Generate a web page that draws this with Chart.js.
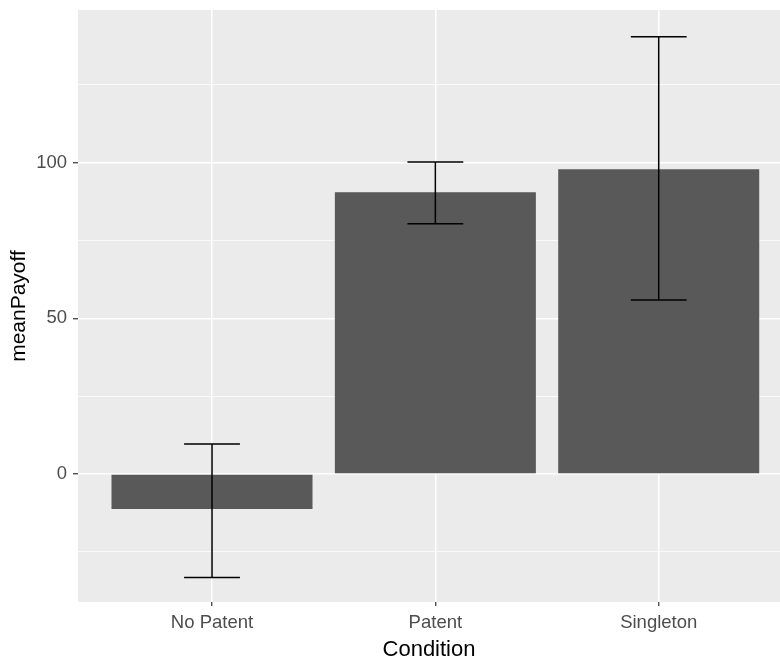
<!DOCTYPE html>
<html>
<head>
<meta charset="utf-8">
<script src="https://cdn.jsdelivr.net/npm/chart.js@4"></script>
<style>
  html, body { margin: 0; padding: 0; background: #ffffff; overflow: hidden; }
  #wrap { width: 780px; height: 663px; }
</style>
</head>
<body>
<div id="wrap"><canvas id="payoffChart" width="780" height="663"></canvas></div>
<script>
// --- Data ---
const conditions = ['No Patent', 'Patent', 'Singleton'];
const meanPayoff = [-11.2, 90.5, 97.9];
const errLower = [-33.2, 80.4, 55.9];
const errUpper = [9.6, 100.2, 140.4];
const yMajorTicks = [0, 50, 100];
const yMinorTicks = [-25, 25, 75, 125];

// Panel background + error bars (ggplot style)
const panelBg = {
    id: 'panelBg',
    beforeDraw(chart) {
        const { ctx, chartArea } = chart;
        ctx.save();
        ctx.fillStyle = '#EBEBEB';
        ctx.fillRect(chartArea.left, chartArea.top, chartArea.right - chartArea.left, chartArea.bottom - chartArea.top);
        ctx.restore();
    }
};

const errorBars = {
    id: 'errorBars',
    afterDatasetsDraw(chart) {
        const { ctx, scales } = chart;
        const x = scales.x, y = scales.y;
        ctx.save();
        ctx.strokeStyle = '#000000';
        ctx.lineWidth = 1.5;
        conditions.forEach((c, i) => {
            const cx = x.getPixelForValue(i + 1);
            const half = x.getPixelForValue(i + 1 + 0.125) - cx;
            const yt = y.getPixelForValue(errUpper[i]);
            const yb = y.getPixelForValue(errLower[i]);
            ctx.beginPath();
            ctx.moveTo(cx - half, yt); ctx.lineTo(cx + half, yt);
            ctx.moveTo(cx, yt); ctx.lineTo(cx, yb);
            ctx.moveTo(cx - half, yb); ctx.lineTo(cx + half, yb);
            ctx.stroke();
        });
        ctx.restore();
    }
};

const ctx = document.getElementById('payoffChart').getContext('2d');
new Chart(ctx, {
    type: 'bar',
    data: {
        datasets: [{
            data: conditions.map((c, i) => ({ x: i + 1, y: meanPayoff[i] })),
            backgroundColor: '#595959',
            borderWidth: 0,
            barPercentage: 0.9,
            categoryPercentage: 1.0
        }]
    },
    options: {
        responsive: false,
        animation: false,
        devicePixelRatio: 1,
        layout: { padding: { top: 10, right: 0, left: 0, bottom: 0 } },
        plugins: {
            legend: { display: false },
            tooltip: { enabled: false }
        },
        scales: {
            x: {
                type: 'linear',
                offset: false,
                min: 0.4,
                max: 3.543,
                afterBuildTicks: (axis) => {
                    axis.ticks = conditions.map((c, i) => ({ value: i + 1 }));
                },
                afterFit: (axis) => { axis.height = 61; axis.paddingLeft = 0; axis.paddingRight = 0; },
                ticks: {
                    callback: (v) => conditions[v - 1],
                    color: '#4D4D4D',
                    font: { family: 'Liberation Sans, Arial, sans-serif', size: 18.5 },
                    padding: 6,
                    maxRotation: 0,
                    autoSkip: false
                },
                grid: {
                    offset: false,
                    color: '#ffffff',
                    lineWidth: 1.5,
                    tickColor: '#333333',
                    tickLength: 4,
                    tickWidth: 1.2
                },
                border: { display: false },
                title: {
                    display: true,
                    text: 'Condition',
                    color: '#000000',
                    font: { family: 'Liberation Sans, Arial, sans-serif', size: 22 },
                    padding: { top: 2, bottom: 0 }
                }
            },
            y: {
                type: 'linear',
                min: -41.1,
                max: 149,
                afterBuildTicks: (axis) => {
                    axis.ticks = yMinorTicks.concat(yMajorTicks).sort((a, b) => a - b).map(v => ({ value: v }));
                },
                afterFit: (axis) => { axis.width = 78; axis.paddingTop = 0; axis.paddingBottom = 0; },
                ticks: {
                    callback: (v) => yMajorTicks.includes(v) ? String(v) : '',
                    color: '#4D4D4D',
                    font: { family: 'Liberation Sans, Arial, sans-serif', size: 18.5 },
                    padding: 6
                },
                grid: {
                    color: '#ffffff',
                    lineWidth: (c) => yMajorTicks.includes(c.tick.value) ? 1.5 : 0.75,
                    tickColor: (c) => yMajorTicks.includes(c.tick.value) ? '#333333' : 'rgba(0,0,0,0)',
                    tickLength: 5,
                    tickWidth: 1.2
                },
                border: { display: false },
                title: {
                    display: true,
                    text: 'meanPayoff',
                    color: '#000000',
                    font: { family: 'Liberation Sans, Arial, sans-serif', size: 21 },
                    padding: { top: 7, bottom: 0 }
                }
            }
        }
    },
    plugins: [panelBg, errorBars]
});
</script>
</body>
</html>
